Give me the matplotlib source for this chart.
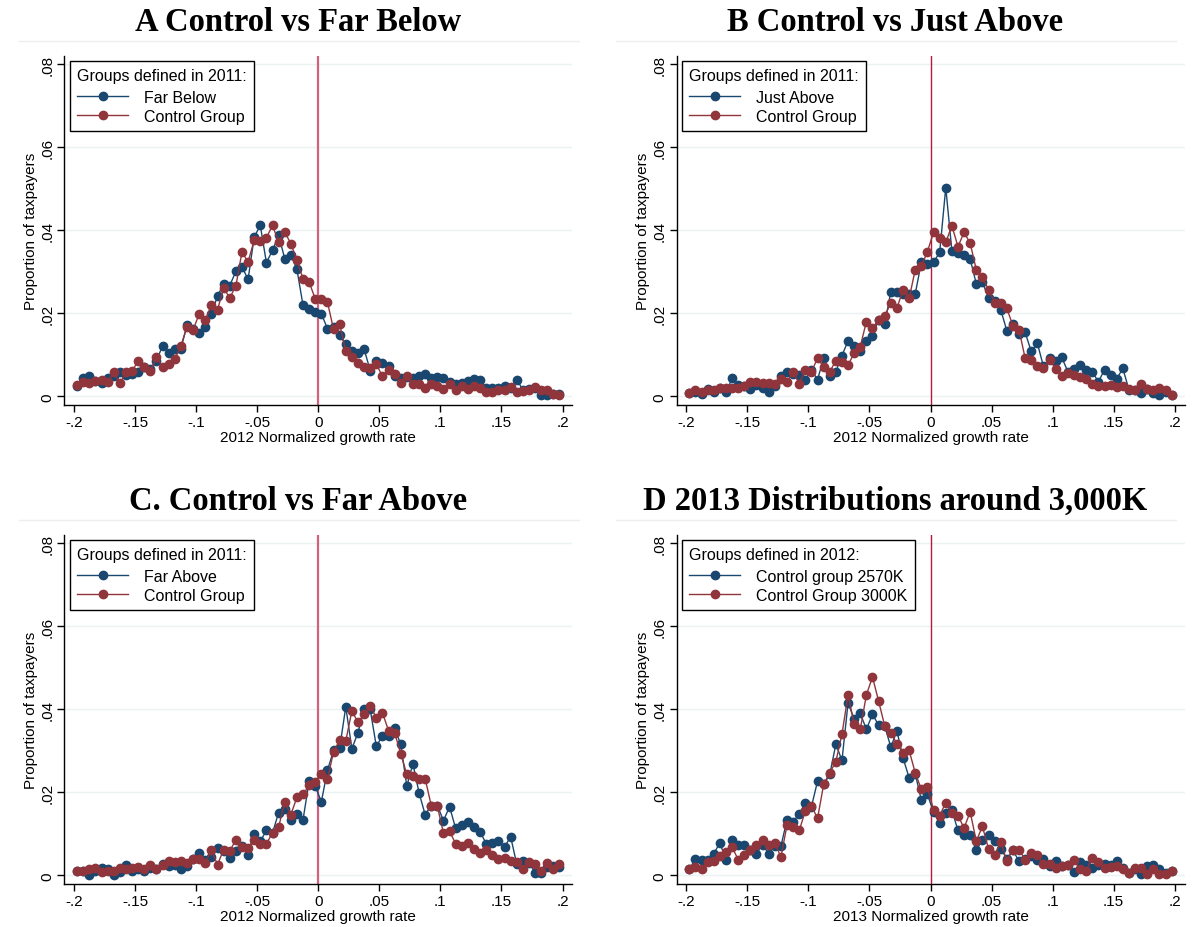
import numpy as np
import matplotlib
matplotlib.use("Agg")
import matplotlib.pyplot as plt
from matplotlib.lines import Line2D

plt.rcParams['font.family'] = ['Liberation Sans', 'DejaVu Sans']

# bin centres of the normalized growth rate (-.2 to .2, width .005)
bins = np.round(np.arange(-0.1975, 0.2, 0.005), 4)

# Panel A
a_far_below = [.0026, .0044, .0048, .0038, .0032, .0043, .0050, .0058, .0052, .0054,
               .0058, .0070, .0066, .0086, .0122, .0105, .0114, .0114, .0173, .0163,
               .0153, .0168, .0199, .0242, .0271, .0267, .0301, .0312, .0282, .0384,
               .0412, .0322, .0352, .0388, .0332, .0341, .0306, .0219, .0211, .0203,
               .0199, .0163, .0168, .0147, .0125, .0110, .0104, .0114, .0062, .0084,
               .0081, .0072, .0048, .0044, .0046, .0043, .0048, .0054, .0044, .0046,
               .0043, .0034, .0030, .0032, .0038, .0042, .0040, .0019, .0019, .0020,
               .0024, .0019, .0040, .0016, .0018, .0019, .0003, .0002, .0006, .0006]
a_control = [.0027, .0034, .0032, .0036, .0040, .0034, .0058, .0031, .0058, .0060,
             .0086, .0070, .0062, .0094, .0070, .0078, .0089, .0122, .0167, .0160,
             .0199, .0183, .0221, .0209, .0261, .0237, .0266, .0348, .0324, .0376,
             .0374, .0382, .0412, .0372, .0396, .0368, .0328, .0283, .0275, .0235,
             .0235, .0227, .0161, .0175, .0108, .0094, .0081, .0070, .0068, .0078,
             .0048, .0064, .0054, .0032, .0048, .0030, .0030, .0019, .0030, .0026,
             .0018, .0030, .0014, .0024, .0018, .0026, .0019, .0011, .0010, .0014,
             .0014, .0022, .0010, .0012, .0016, .0022, .0014, .0014, .0006, .0003]

# Panel B
b_just_above = [.0007, .0010, .0006, .0018, .0010, .0019, .0010, .0043, .0028, .0024,
                .0018, .0027, .0019, .0010, .0024, .0050, .0058, .0054, .0051, .0040,
                .0064, .0040, .0092, .0050, .0059, .0098, .0134, .0122, .0110, .0134,
                .0145, .0185, .0174, .0252, .0251, .0247, .0247, .0247, .0323, .0320,
                .0323, .0347, .0503, .0351, .0345, .0340, .0331, .0271, .0275, .0238,
                .0230, .0209, .0158, .0174, .0150, .0154, .0108, .0128, .0072, .0092,
                .0084, .0094, .0059, .0066, .0075, .0064, .0059, .0035, .0064, .0051,
                .0042, .0067, .0016, .0014, .0008, .0018, .0008, .0002, .0010, .0003]
b_control = [.0007, .0014, .0011, .0014, .0014, .0020, .0019, .0019, .0019, .0024,
             .0035, .0035, .0032, .0032, .0030, .0042, .0035, .0059, .0030, .0064,
             .0059, .0092, .0070, .0059, .0086, .0082, .0075, .0104, .0120, .0180,
             .0164, .0185, .0194, .0225, .0212, .0257, .0236, .0305, .0313, .0349,
             .0395, .0381, .0371, .0411, .0361, .0395, .0369, .0305, .0287, .0257,
             .0226, .0225, .0212, .0170, .0160, .0092, .0088, .0072, .0068, .0088,
             .0066, .0048, .0056, .0051, .0046, .0042, .0030, .0026, .0026, .0027,
             .0022, .0024, .0018, .0014, .0030, .0018, .0016, .0019, .0016, .0003]

# Panel C
c_far_above = [.0011, .0010, .0000, .0011, .0018, .0016, .0000, .0008, .0024, .0011,
               .0016, .0011, .0018, .0016, .0027, .0022, .0024, .0016, .0022, .0040,
               .0054, .0038, .0043, .0066, .0058, .0042, .0058, .0070, .0050, .0100,
               .0082, .0108, .0102, .0151, .0159, .0134, .0148, .0134, .0227, .0215,
               .0177, .0253, .0301, .0307, .0406, .0305, .0344, .0400, .0400, .0311,
               .0336, .0336, .0354, .0316, .0215, .0269, .0199, .0146, .0168, .0168,
               .0132, .0165, .0113, .0121, .0129, .0116, .0105, .0076, .0078, .0082,
               .0068, .0093, .0027, .0035, .0030, .0006, .0006, .0019, .0022, .0019]
c_control = [.0011, .0010, .0014, .0018, .0008, .0011, .0011, .0018, .0014, .0018,
             .0020, .0014, .0026, .0016, .0026, .0034, .0032, .0035, .0030, .0040,
             .0040, .0030, .0060, .0026, .0062, .0058, .0086, .0068, .0066, .0086,
             .0076, .0076, .0102, .0116, .0177, .0146, .0188, .0195, .0217, .0225,
             .0245, .0231, .0298, .0326, .0324, .0396, .0369, .0388, .0408, .0380,
             .0392, .0349, .0344, .0293, .0243, .0239, .0233, .0233, .0168, .0167,
             .0101, .0106, .0076, .0070, .0078, .0064, .0054, .0062, .0048, .0039,
             .0042, .0034, .0032, .0016, .0031, .0028, .0011, .0030, .0016, .0027]

# Panel D
d_2570 = [.0014, .0040, .0038, .0038, .0052, .0078, .0038, .0084, .0074, .0074,
          .0060, .0052, .0074, .0052, .0070, .0070, .0134, .0129, .0148, .0175,
          .0165, .0227, .0219, .0243, .0316, .0277, .0416, .0376, .0390, .0352,
          .0388, .0362, .0360, .0309, .0348, .0283, .0235, .0245, .0181, .0195,
          .0152, .0126, .0150, .0157, .0108, .0097, .0097, .0060, .0086, .0097,
          .0082, .0064, .0040, .0060, .0034, .0040, .0046, .0038, .0040, .0022,
          .0034, .0022, .0026, .0008, .0032, .0026, .0018, .0024, .0027, .0024,
          .0034, .0018, .0006, .0016, .0003, .0022, .0026, .0014, .0006, .0011]
d_3000 = [.0014, .0019, .0016, .0032, .0035, .0046, .0056, .0068, .0038, .0048,
          .0060, .0072, .0086, .0074, .0078, .0044, .0121, .0116, .0108, .0155,
          .0168, .0137, .0219, .0247, .0274, .0340, .0435, .0364, .0352, .0435,
          .0478, .0420, .0360, .0344, .0317, .0295, .0301, .0247, .0207, .0213,
          .0157, .0144, .0175, .0150, .0144, .0114, .0153, .0082, .0118, .0064,
          .0048, .0080, .0035, .0062, .0062, .0038, .0054, .0048, .0028, .0027,
          .0018, .0022, .0024, .0038, .0014, .0011, .0042, .0032, .0018, .0019,
          .0022, .0016, .0006, .0018, .0018, .0003, .0014, .0003, .0003, .0011]

titles = ["A Control vs Far Below", "B Control vs Just Above",
          "C. Control vs Far Above", "D 2013 Distributions around 3,000K"]
legend_titles = ["Groups defined in 2011:", "Groups defined in 2011:",
                 "Groups defined in 2011:", "Groups defined in 2012:"]
blue_labels = ["Far Below", "Just Above", "Far Above", "Control group 2570K"]
red_labels = ["Control Group", "Control Group", "Control Group", "Control Group 3000K"]
xlabels = ["2012 Normalized growth rate"] * 3 + ["2013 Normalized growth rate"]
blue_series = [a_far_below, b_just_above, c_far_above, d_2570]
red_series = [a_control, b_control, c_control, d_3000]

xticks = [-.2, -.15, -.1, -.05, 0, .05, .1, .15, .2]
xticklabels = ["-.2", "-.15", "-.1", "-.05", "0", ".05", ".1", ".15", ".2"]
yticks = [0, .02, .04, .06, .08]
yticklabels = ["0", ".02", ".04", ".06", ".08"]

BLUE = '#1a476f'
RED = '#90353b'
vline_colors = ['#d2607e', '#b8183c', '#d2607e', '#b8183c']
vline_widths = [1.6, 1.0, 1.6, 1.0]

W, H = 1194, 928
fig = plt.figure(figsize=(W / 100, H / 100), dpi=100)

# pixel geometry: (axes left, axes bottom) per panel
lefts = [64.3, 676.5, 64.3, 676.5]
bottoms = [406, 406, 885, 885]
ax_w, ax_h = 508, 349.3
panel_centers = [298.5, 895.5, 298.5, 895.5]

for k in range(4):
    ax = fig.add_axes([lefts[k] / W, (H - bottoms[k]) / H, ax_w / W, ax_h / H])
    ax.set_xlim(-0.208, 0.208)
    ax.set_ylim(-0.0021, 0.0821)
    for y in yticks:
        ax.axhline(y, color='#eaf2f3', lw=1.0, zorder=0)
    ax.axvline(0, color=vline_colors[k], lw=vline_widths[k], zorder=1.5)
    ax.plot(bins, blue_series[k], color=BLUE, lw=1.0, marker='o', ms=6,
            mec=BLUE, mfc=BLUE, zorder=3)
    ax.plot(bins, red_series[k], color=RED, lw=1.0, marker='o', ms=6,
            mec=RED, mfc=RED, zorder=4)

    ax.spines['top'].set_visible(False)
    ax.spines['right'].set_visible(False)
    ax.spines['left'].set_color('#000000')
    ax.spines['bottom'].set_color('#000000')
    ax.spines['left'].set_linewidth(1.0)
    ax.spines['bottom'].set_linewidth(1.0)

    ax.set_xticks(xticks)
    ax.set_xticklabels(xticklabels, fontsize=11)
    ax.set_yticks(yticks)
    ax.set_yticklabels(yticklabels, fontsize=11, rotation=90, va='center')
    ax.tick_params(direction='out', length=5, width=1, pad=2)
    ax.set_xlabel(xlabels[k], fontsize=11, labelpad=1)
    ax.set_ylabel("Proportion of taxpayers", fontsize=11, labelpad=2)

    handles = [Line2D([], [], color=BLUE, lw=1.0, marker='o', ms=6),
               Line2D([], [], color=RED, lw=1.0, marker='o', ms=6)]
    leg = ax.legend(handles, [blue_labels[k], red_labels[k]],
                    title=legend_titles[k], loc='upper left',
                    bbox_to_anchor=(0.011, 0.985), borderaxespad=0,
                    fontsize=11.5, title_fontsize=11.5, fancybox=False,
                    framealpha=1, edgecolor='black', handlelength=3.2,
                    labelspacing=0.25, borderpad=0.45, handletextpad=1.0)
    leg.get_frame().set_linewidth(1.0)
    leg._legend_box.align = "left"
    leg._legend_box.sep = 5

    # title and the thin rule below it
    top_px = bottoms[k] - ax_h
    fig.text(panel_centers[k] / W, 1 - (top_px - 34) / H, titles[k],
             ha='center', va='center', fontsize=23.5, fontweight='bold',
             family='Liberation Serif')
    x0 = panel_centers[k] - 280
    x1 = panel_centers[k] + 280
    fig.add_artist(Line2D([x0 / W, x1 / W], [1 - (top_px - 15) / H] * 2,
                          color='#eeeeee', lw=1.0))

fig.savefig("out.png", dpi=100, facecolor='white')
